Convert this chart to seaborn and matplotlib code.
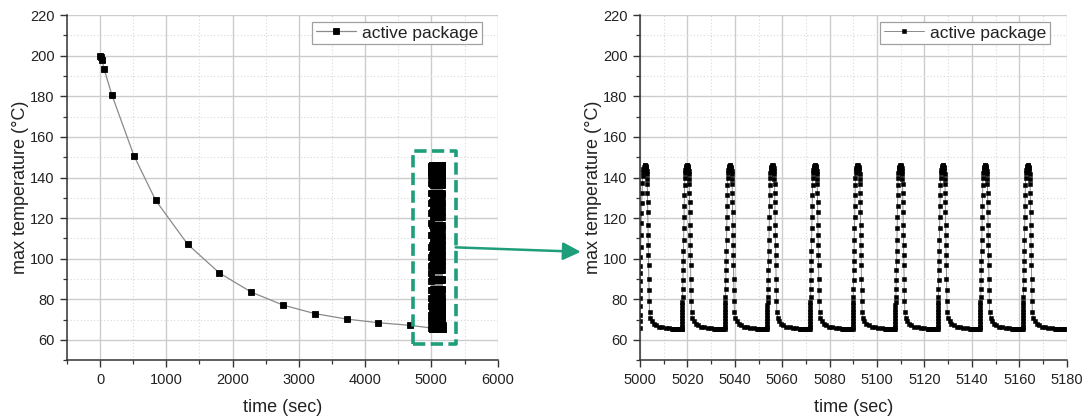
import numpy as np
import pandas as pd
import matplotlib
matplotlib.use("Agg")
import matplotlib.pyplot as plt
from matplotlib.patches import Rectangle, ConnectionPatch
from matplotlib.ticker import MultipleLocator
import seaborn as sns

# ---- cool-down of the package before cyclic operation ----
decay_time = [0, 10, 30, 60, 180, 510, 840, 1320, 1800, 2280, 2760, 3240, 3720, 4200, 4680]
decay_temp = [200.0, 199.3, 197.8, 193.4, 180.5, 150.8, 128.7, 107.2, 93.0, 83.6,
              77.2, 73.0, 70.3, 68.5, 67.2]

# ---- first heating pulse (starts at t = 5000 s), rise part ----
first_rise_dt = [0.00, 0.02, 0.04, 0.06, 0.08, 0.10, 0.12, 0.14, 0.16, 0.18,
                 0.30, 0.40, 0.50, 0.60, 0.70, 0.85, 1.00, 1.15, 1.30, 1.45, 1.60]
first_rise_temp = [65.9, 69.2, 72.5, 76.6, 80.7, 84.8, 88.9, 93.0, 96.6, 100.8,
                   106.0, 111.8, 117.5, 122.5, 127.4, 132.3, 137.2, 140.5, 142.5, 144.0, 145.2]

# ---- later heating pulses, rise part (relative to pulse start) ----
rise_dt = [0.00, 0.01, 0.02, 0.03, 0.04, 0.05, 0.06, 0.07, 0.08, 0.09,
           0.25, 0.32, 0.40, 0.47, 0.55, 0.62, 0.70, 0.78, 0.86, 0.94, 1.02, 1.10, 1.20,
           1.30, 1.45, 1.60, 1.75]
rise_temp = [65.2, 66.5, 68.0, 69.5, 71.0, 72.5, 74.0, 75.5, 77.0, 78.5,
             81.0, 85.0, 89.3, 94.3, 99.0, 104.0, 109.0, 115.0, 120.5, 126.0, 131.5, 136.5, 140.0,
             142.0, 143.5, 144.5, 145.3]

# ---- peak, fall and slow relaxation shared by every pulse ----
fall_dt = [1.90, 2.05, 2.20, 2.35, 2.50, 2.65, 2.80, 2.92, 3.00, 3.06,
           3.12, 3.18, 3.25, 3.32, 3.39, 3.46, 3.53, 3.60, 3.68, 3.76, 3.87,
           4.02, 4.40, 5.00, 5.80, 6.80, 8.00, 9.40, 10.80, 12.20, 13.60,
           14.00, 14.25, 14.50, 14.75, 15.00, 15.25, 15.50, 15.75, 16.00, 16.25,
           16.50, 16.75, 17.00, 17.25, 17.50]
fall_temp = [145.8, 146.0, 146.0, 145.8, 145.3, 144.5, 143.3, 141.5, 139.5, 137.0,
             132.6, 127.7, 122.8, 116.7, 111.8, 106.9, 102.0, 97.0, 90.2, 84.8, 79.0,
             74.0, 71.0, 69.2, 68.0, 67.2, 66.6, 66.2, 65.9, 65.7, 65.6,
             65.2, 65.2, 65.2, 65.2, 65.2, 65.2, 65.2, 65.2, 65.2, 65.2,
             65.2, 65.2, 65.2, 65.2, 65.2]

pulse_starts = [5017.7, 5035.8, 5053.7, 5071.7, 5089.7, 5107.7, 5125.6, 5143.5, 5161.5]

legend_label = "active package"

# assemble the full time series
times = list(decay_time)
temps = list(decay_temp)
times += [5000.0 + d for d in first_rise_dt + fall_dt]
temps += first_rise_temp + fall_temp
for t0 in pulse_starts:
    times += [t0 + d for d in rise_dt + fall_dt]
    temps += rise_temp + fall_temp
df = pd.DataFrame({"time": times, "temp": temps})

sns.set_theme(style="ticks")
plt.rcParams["font.family"] = ["Liberation Sans", "DejaVu Sans"]
plt.rcParams["axes.linewidth"] = 1.1
plt.rcParams["xtick.major.width"] = 1.0
plt.rcParams["ytick.major.width"] = 1.0
plt.rcParams["xtick.minor.width"] = 0.9
plt.rcParams["ytick.minor.width"] = 0.9

fig = plt.figure(figsize=(10.87, 4.16), dpi=100)
ax1 = fig.add_axes([0.0616, 0.1339, 0.3962, 0.8300])
ax2 = fig.add_axes([0.5888, 0.1339, 0.3925, 0.8300])

line_col = "#8a8a8a"
text_col = "#222222"
green = "#1f9e7b"


def style_axes(ax, xlim, xmajor, xminor):
    ax.set_xlim(*xlim)
    ax.set_ylim(50, 220)
    ax.xaxis.set_major_locator(MultipleLocator(xmajor))
    ax.xaxis.set_minor_locator(MultipleLocator(xminor))
    ax.yaxis.set_major_locator(MultipleLocator(20))
    ax.yaxis.set_minor_locator(MultipleLocator(10))
    ax.set_yticks(np.arange(60, 221, 20))
    ax.grid(which="major", color="#cccccc", linewidth=1.0, linestyle="-")
    ax.grid(which="minor", color="#d9d9d9", linewidth=0.8, linestyle=(0, (1, 2)))
    ax.set_axisbelow(True)
    for s in ("top", "right"):
        ax.spines[s].set_visible(False)
    for s in ("left", "bottom"):
        ax.spines[s].set_color("#333333")
    ax.tick_params(which="major", direction="out", length=5, colors="#333333",
                   labelsize=10.5, labelcolor=text_col, pad=4)
    ax.tick_params(which="minor", direction="out", length=3, colors="#333333")
    ax.set_xlabel("time (sec)", fontsize=13, color=text_col, labelpad=9)
    ax.set_ylabel("max temperature (°C)", fontsize=13, color=text_col, labelpad=0.5)


# overview of the whole run
sns.lineplot(data=df, x="time", y="temp", ax=ax1, estimator=None, sort=False,
             color=line_col, linewidth=0.9, marker="s", markersize=5,
             markerfacecolor="black", markeredgecolor="black", markeredgewidth=0.6,
             label=legend_label)
style_axes(ax1, (-500, 6000), 1000, 500)

# detail of the cyclic part
sns.lineplot(data=df, x="time", y="temp", ax=ax2, estimator=None, sort=False,
             color=line_col, linewidth=0.7, marker="s", markersize=2.7,
             markerfacecolor="black", markeredgecolor="black", markeredgewidth=0.4,
             label=legend_label)
style_axes(ax2, (5000, 5180), 20, 10)

for ax, right in ((ax1, 0.963), (ax2, 0.961)):
    leg = ax.legend(loc="upper right", bbox_to_anchor=(right, 0.981), borderaxespad=0,
                    fontsize=12.5, frameon=True, fancybox=False, framealpha=1,
                    edgecolor="#a0a0a0", borderpad=0.22, handlelength=2.3,
                    handletextpad=0.35, labelspacing=0.2)
    leg.get_frame().set_linewidth(0.9)
    for txt in leg.get_texts():
        txt.set_color(text_col)

# highlight of the cyclic region in the overview
box = Rectangle((4720, 58), 645, 95, fill=False, edgecolor=green, linewidth=2.6,
                linestyle=(0, (3.4, 1.5)), joinstyle="round", clip_on=False, zorder=5)
ax1.add_patch(box)

arrow = ConnectionPatch(xyA=(5366, 105.6), coordsA=ax1.transData,
                        xyB=(4975, 103.4), coordsB=ax2.transData,
                        arrowstyle="-|>,head_length=0.9,head_width=0.45",
                        mutation_scale=12, color=green, linewidth=1.8,
                        shrinkA=0, shrinkB=0)
fig.add_artist(arrow)

fig.savefig("out.png", dpi=100)
